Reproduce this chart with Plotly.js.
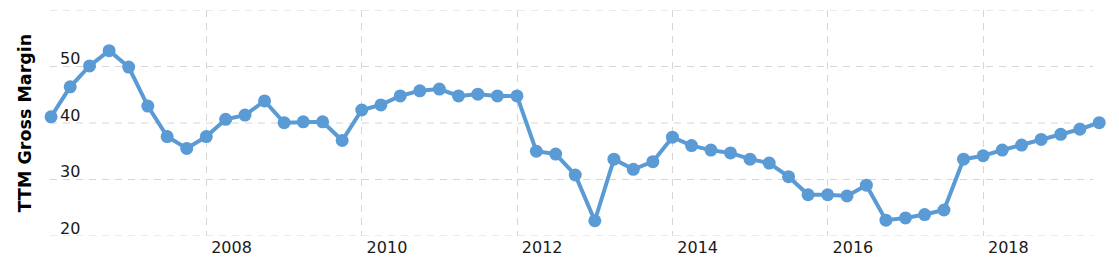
<!DOCTYPE html>
<html>
<head>
<meta charset="utf-8">
<script src="https://cdn.plot.ly/plotly-3.0.1.min.js"></script>
<style>html,body{margin:0;padding:0;background:#fff;}#chart{width:1119px;height:268px;}</style>
</head>
<body>
<div id="chart"></div>
<script>
const dates = [
  '2005-12-31',
  '2006-03-31','2006-06-30','2006-09-30','2006-12-31',
  '2007-03-31','2007-06-30','2007-09-30','2007-12-31',
  '2008-03-31','2008-06-30','2008-09-30','2008-12-31',
  '2009-03-31','2009-06-30','2009-09-30','2009-12-31',
  '2010-03-31','2010-06-30','2010-09-30','2010-12-31',
  '2011-03-31','2011-06-30','2011-09-30','2011-12-31',
  '2012-03-31','2012-06-30','2012-09-30','2012-12-31',
  '2013-03-31','2013-06-30','2013-09-30','2013-12-31',
  '2014-03-31','2014-06-30','2014-09-30','2014-12-31',
  '2015-03-31','2015-06-30','2015-09-30','2015-12-31',
  '2016-03-31','2016-06-30','2016-09-30','2016-12-31',
  '2017-03-31','2017-06-30','2017-09-30','2017-12-31',
  '2018-03-31','2018-06-30','2018-09-30','2018-12-31',
  '2019-03-31','2019-06-30'
];
const grossMargin = [
  41.1,
  46.4, 50.1, 52.8, 49.9,
  43.0, 37.6, 35.5, 37.6,
  40.65, 41.4, 43.9, 40.05,
  40.2, 40.2, 36.9, 42.3,
  43.2, 44.8, 45.7, 46.0,
  44.8, 45.1, 44.8, 44.8,
  35.0, 34.5, 30.8, 22.7,
  33.6, 31.8, 33.15, 37.5,
  36.0, 35.2, 34.7, 33.6,
  32.9, 30.5, 27.3, 27.3,
  27.1, 29.0, 22.8, 23.2,
  23.8, 24.6, 33.6, 34.2,
  35.2, 36.1, 37.1, 38.0,
  38.9, 40.05
];
const xTickVals = ['2008-01-01','2010-01-01','2012-01-01','2014-01-01','2016-01-01','2018-01-01'];
const xTickText = ['2008','2010','2012','2014','2016','2018'];
const yTickVals = [20, 30, 40, 50, 60];
const yTickText = ['20', '30', '40', '50', ''];

const trace = {
  x: dates,
  y: grossMargin,
  type: 'scatter',
  mode: 'lines+markers',
  line: {color: '#5b9bd5', width: 4},
  marker: {color: '#5b9bd5', size: 13},
  cliponaxis: false,
  hoverinfo: 'x+y'
};

const gridColor = '#d6d6d6';
const gridDash = '7px,6px';
const W = 1119, ML = 50, MR = 10, GRID_RIGHT = 1093;
const gridEnd = (GRID_RIGHT - ML) / (W - ML - MR);

const hGrid = yTickVals.map(v => ({
  type: 'line', xref: 'paper', yref: 'y',
  x0: 0, x1: gridEnd, y0: v, y1: v,
  layer: 'below',
  line: {color: gridColor, width: 1, dash: gridDash}
}));

const font = {family: '"DejaVu Sans", Verdana, sans-serif', size: 16, color: '#1a1a1a'};

const layout = {
  width: W,
  height: 268,
  margin: {l: ML, r: MR, t: 10, b: 32, pad: 0},
  paper_bgcolor: '#fff',
  plot_bgcolor: '#fff',
  showlegend: false,
  font: font,
  shapes: hGrid,
  xaxis: {
    type: 'date',
    range: ['2005-12-26', '2019-08-15'],
    tickmode: 'array',
    tickvals: xTickVals,
    ticktext: xTickText,
    ticklabelshift: 25,
    showgrid: true,
    gridcolor: gridColor,
    gridwidth: 1,
    griddash: gridDash,
    zeroline: false,
    showline: false,
    ticks: '',
    tickfont: font
  },
  yaxis: {
    range: [20, 60],
    tickmode: 'array',
    tickvals: yTickVals,
    ticktext: yTickText,
    ticklabelposition: 'inside',
    ticklabeloverflow: 'allow',
    ticklabelshift: -8,
    ticklabelstandoff: 7,
    showgrid: false,
    zeroline: false,
    showline: false,
    ticks: '',
    tickfont: font,
    title: {
      text: 'TTM Gross Margin',
      font: {family: '"DejaVu Sans", Verdana, sans-serif', size: 17.5, color: '#000', weight: 'bold'},
      standoff: 23
    }
  }
};

Plotly.newPlot('chart', [trace], layout, {displayModeBar: false, staticPlot: true});
</script>
</body>
</html>
